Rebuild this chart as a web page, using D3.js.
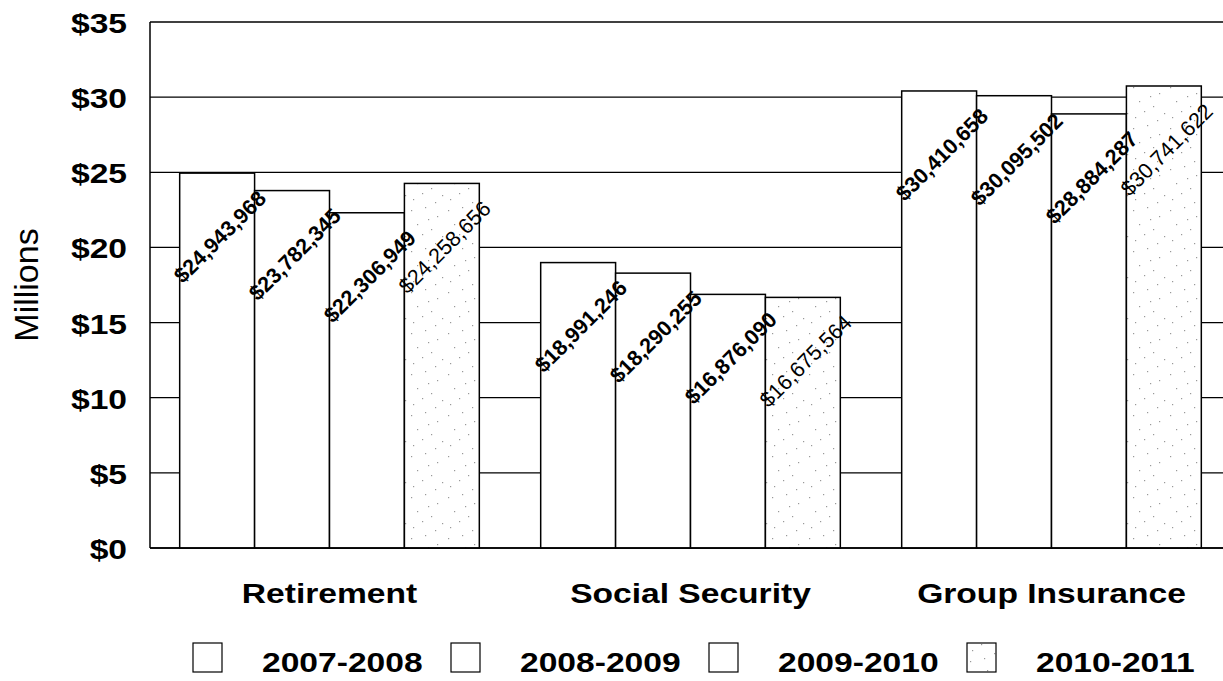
<!DOCTYPE html>
<html>
<head>
<meta charset="utf-8">
<script src="https://cdn.jsdelivr.net/npm/d3@7"></script>
<style>
  html, body { margin: 0; padding: 0; background: #fff; }
  svg { display: block; font-family: "Liberation Sans", Arial, sans-serif; }
</style>
</head>
<body>
<svg id="chart" width="1223" height="681"></svg>
<script>
const categories = ["Retirement", "Social Security", "Group Insurance"];
const seriesNames = ["2007-2008", "2008-2009", "2009-2010", "2010-2011"];
const s2007 = [24943968, 18991246, 30410658];
const s2008 = [23782345, 18290255, 30095502];
const s2009 = [22306949, 16876090, 28884287];
const s2010 = [24258656, 16675564, 30741622];
const yTicks = [0, 5, 10, 15, 20, 25, 30, 35];
const yTickLabels = ["$0", "$5", "$10", "$15", "$20", "$25", "$30", "$35"];
const yTitle = "Millions";

const seriesValues = [s2007, s2008, s2009, s2010];

const svg = d3.select("#chart");
const plotL = 150, plotR = 1223, plotT = 22, plotB = 548;
const SX = 1.2;

const y = d3.scaleLinear().domain([0, 35]).range([plotB, plotT]);
const x0 = d3.scaleBand().domain(categories).range([149, 1232]).padding(0);
const bw = x0.bandwidth();
const x1 = d3.scaleBand().domain(seriesNames).range([bw * 0.085, bw * 0.915]).padding(0);

// stipple pattern for last series
const defs = svg.append("defs");
const pat = defs.append("pattern").attr("id", "stip").attr("patternUnits", "userSpaceOnUse")
  .attr("width", 37).attr("height", 41);
pat.append("rect").attr("width", 37).attr("height", 41).attr("fill", "#fff");
[[3,5],[17,2],[29,11],[9,19],[23,24],[34,31],[5,35],[14,29],[27,38],[20,14]].forEach(p => {
  pat.append("rect").attr("x", p[0]).attr("y", p[1]).attr("width", 1.2).attr("height", 1.2).attr("fill", "#999");
});

// gridlines
svg.append("g").selectAll("line").data(yTicks).join("line")
  .attr("x1", plotL).attr("x2", plotR)
  .attr("y1", d => y(d)).attr("y2", d => y(d))
  .attr("stroke", "#000").attr("stroke-width", 1.3);

// left axis line
svg.append("line").attr("x1", plotL).attr("x2", plotL).attr("y1", plotT).attr("y2", plotB)
  .attr("stroke", "#000").attr("stroke-width", 1.5);

// y tick labels
svg.append("g").selectAll("text").data(yTicks).join("text")
  .attr("transform", d => `translate(127,${y(d) + 11}) scale(${SX},1)`)
  .attr("text-anchor", "end")
  .attr("font-size", 28).attr("font-weight", "bold")
  .text((d, i) => yTickLabels[i]);

// y title
svg.append("text")
  .attr("transform", `translate(38,285) rotate(-90)`)
  .attr("text-anchor", "middle")
  .attr("font-size", 34)
  .text(yTitle);

// bars
const groups = svg.append("g").selectAll("g").data(categories).join("g")
  .attr("transform", d => `translate(${x0(d)},0)`);

groups.selectAll("rect").data((c, ci) => seriesNames.map((s, si) => ({ s, si, v: seriesValues[si][ci] })))
  .join("rect")
  .attr("x", d => x1(d.s))
  .attr("width", x1.bandwidth())
  .attr("y", d => y(d.v / 1e6))
  .attr("height", d => y(0) - y(d.v / 1e6))
  .attr("fill", d => d.si === 3 ? "url(#stip)" : "#fff")
  .attr("stroke", "#000").attr("stroke-width", 1.5);

// bottom axis line
svg.append("line").attr("x1", plotL).attr("x2", plotR).attr("y1", plotB).attr("y2", plotB)
  .attr("stroke", "#000").attr("stroke-width", 1.5);

// data labels
const fmt = d3.format(",");
groups.selectAll("text.lbl").data((c, ci) => seriesNames.map((s, si) => ({ s, si, v: seriesValues[si][ci] })))
  .join("text").attr("class", "lbl")
  .attr("transform", d => `translate(${x1(d.s) + x1.bandwidth() / 2 + 3},${y(d.v / 1e6) + 64}) rotate(-45)`)
  .attr("text-anchor", "middle").attr("dominant-baseline", "central")
  .attr("font-size", 21.5)
  .attr("font-weight", d => d.si === 3 ? "normal" : "bold")
  .text(d => "$" + fmt(d.v));

// category labels
svg.append("g").selectAll("text").data(categories).join("text")
  .attr("transform", d => `translate(${x0(d) + bw / 2},603) scale(${SX},1)`)
  .attr("text-anchor", "middle")
  .attr("font-size", 28).attr("font-weight", "bold")
  .text(d => d);

// legend
const leg = svg.append("g").selectAll("g").data(seriesNames).join("g")
  .attr("transform", (d, i) => `translate(${193 + i * 258},0)`);
leg.append("rect").attr("x", 0).attr("y", 643).attr("width", 29).attr("height", 29)
  .attr("fill", (d, i) => i === 3 ? "url(#stip)" : "#fff").attr("stroke", "#000").attr("stroke-width", 1.2);
leg.append("text")
  .attr("transform", `translate(69,672) scale(${SX},1)`)
  .attr("font-size", 28).attr("font-weight", "bold")
  .text(d => d);
</script>
</body>
</html>
